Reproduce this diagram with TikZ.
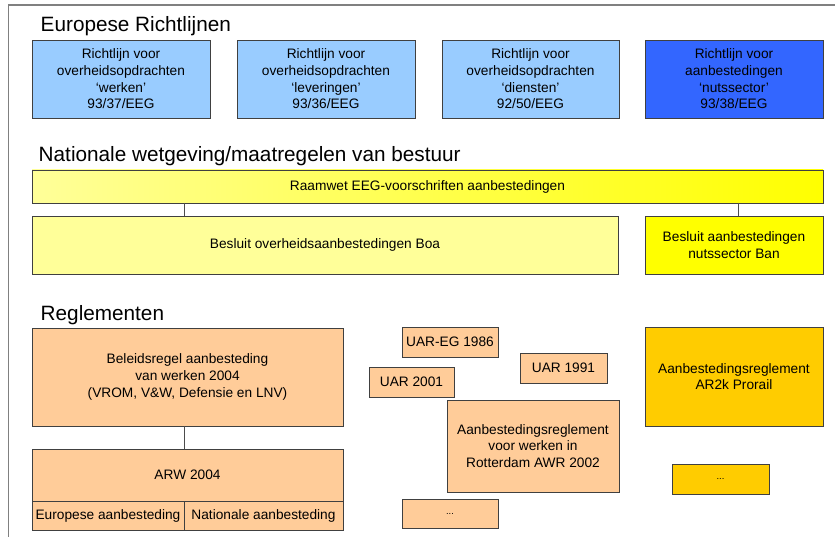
\documentclass[tikz,border=0pt]{standalone}
\usepackage{fontspec}
\setmainfont{Liberation Sans}

\definecolor{lichtblauw}{HTML}{99CCFF}
\definecolor{donkerblauw}{HTML}{3366FF}
\definecolor{bleekgeel}{HTML}{FFFF99}
\definecolor{felgeel}{HTML}{FFFF00}
\definecolor{zalm}{HTML}{FFCC99}
\definecolor{goud}{HTML}{FFCC00}

\newcommand{\tekst}{\fontsize{11.7}{14.2}\selectfont}
\newcommand{\kop}{\fontsize{17.7}{21}\selectfont}

\begin{document}
\begin{tikzpicture}[x=0.03cm,y=-0.03cm,
    dims/.style 2 args={minimum width=#1*0.03cm,minimum height=#2*0.03cm},
    vak/.style={draw=black!75,line width=0.8pt,inner sep=0pt,outer sep=0pt,align=center,font=\tekst},
    kopje/.style={anchor=base west,inner sep=0pt,font=\kop},
    lijn/.style={draw=black!70,line width=0.8pt},
    puntjes/.style={font=\fontsize{8}{10}\selectfont}]

      \useasboundingbox (0,0) rectangle (835,537);
      \draw[black!50,line width=1.3pt] (835,5) -- (8.5,5) -- (8.5,537);

      \node[kopje] (europa) at (40.5,31.5) {Europese Richtlijnen};
      \node[vak,dims={178}{78},fill=lichtblauw] (werken) at (121,79) {Richtlijn voor\\overheidsopdrachten\\`werken'\\93/37/EEG};
      \node[vak,dims={178}{78},fill=lichtblauw] (leveringen) at (326,79) {Richtlijn voor\\overheidsopdrachten\\`leveringen'\\93/36/EEG};
      \node[vak,dims={177}{78},fill=lichtblauw] (diensten) at (530.5,79) {Richtlijn voor\\overheidsopdrachten\\`diensten'\\92/50/EEG};
      \node[vak,dims={178}{78},fill=donkerblauw] (nutssector) at (734,79) {Richtlijn voor\\aanbestedingen\\`nutssector'\\93/38/EEG};

      \node[kopje] (nationaal) at (38.5,162) {Nationale wetgeving/maatregelen van bestuur};
      \node[vak,dims={791}{33},left color=bleekgeel,right color=felgeel] (raamwet) at (427.5,186.5) {Raamwet EEG-voorschriften aanbestedingen};
      \node[vak,dims={586}{58},fill=bleekgeel] (boa) at (325,245) {Besluit overheidsaanbestedingen Boa};
      \node[vak,dims={178}{58},fill=felgeel] (ban) at (734,245) {Besluit aanbestedingen\\nutssector Ban};

      \coordinate (splits) at (184,0);
      \coordinate (splitsban) at (738,0);
      \draw[lijn] (raamwet.south -| splits) -- (boa.north -| splits);
      \draw[lijn] (raamwet.south -| splitsban) -- (ban.north -| splitsban);

      \node[kopje] (reglementen) at (40.5,320) {Reglementen};
      \node[vak,dims={311}{98},fill=zalm] (beleid) at (187.5,377) {Beleidsregel aanbesteding\\van werken 2004\\(VROM, V\&W, Defensie en LNV)};
      \node[vak,dims={311}{52},fill=zalm] (arw) at (187.5,475) {ARW 2004};
      \node[vak,dims={152}{29},fill=zalm] (europees) at (108,515.5) {Europese aanbesteding};
      \node[vak,dims={159}{29},fill=zalm] (nationaal2) at (263.5,515.5) {Nationale aanbesteding};
      \draw[lijn] (beleid.south -| splits) -- (arw.north -| splits);

      \node[vak,dims={96}{30},fill=zalm] (uareg) at (450,342) {UAR-EG 1986};
      \node[vak,dims={85}{30},fill=zalm] (uar2001) at (411.5,382) {UAR 2001};
      \node[vak,dims={87}{30},fill=zalm] (uar1991) at (563.5,368) {UAR 1991};
      \node[vak,dims={172}{92},fill=zalm] (awr) at (533,446) {Aanbestedingsreglement\\voor werken in\\Rotterdam AWR 2002};
      \node[vak,dims={96}{29},fill=zalm,puntjes] (overig) at (450,513.5) {...};

      \node[vak,dims={178}{99},fill=goud] (prorail) at (734,376.5) {Aanbestedingsreglement\\AR2k Prorail};
      \node[vak,dims={97}{30},fill=goud,puntjes] (overig2) at (720.5,479) {...};

    \end{tikzpicture}
\end{document}
